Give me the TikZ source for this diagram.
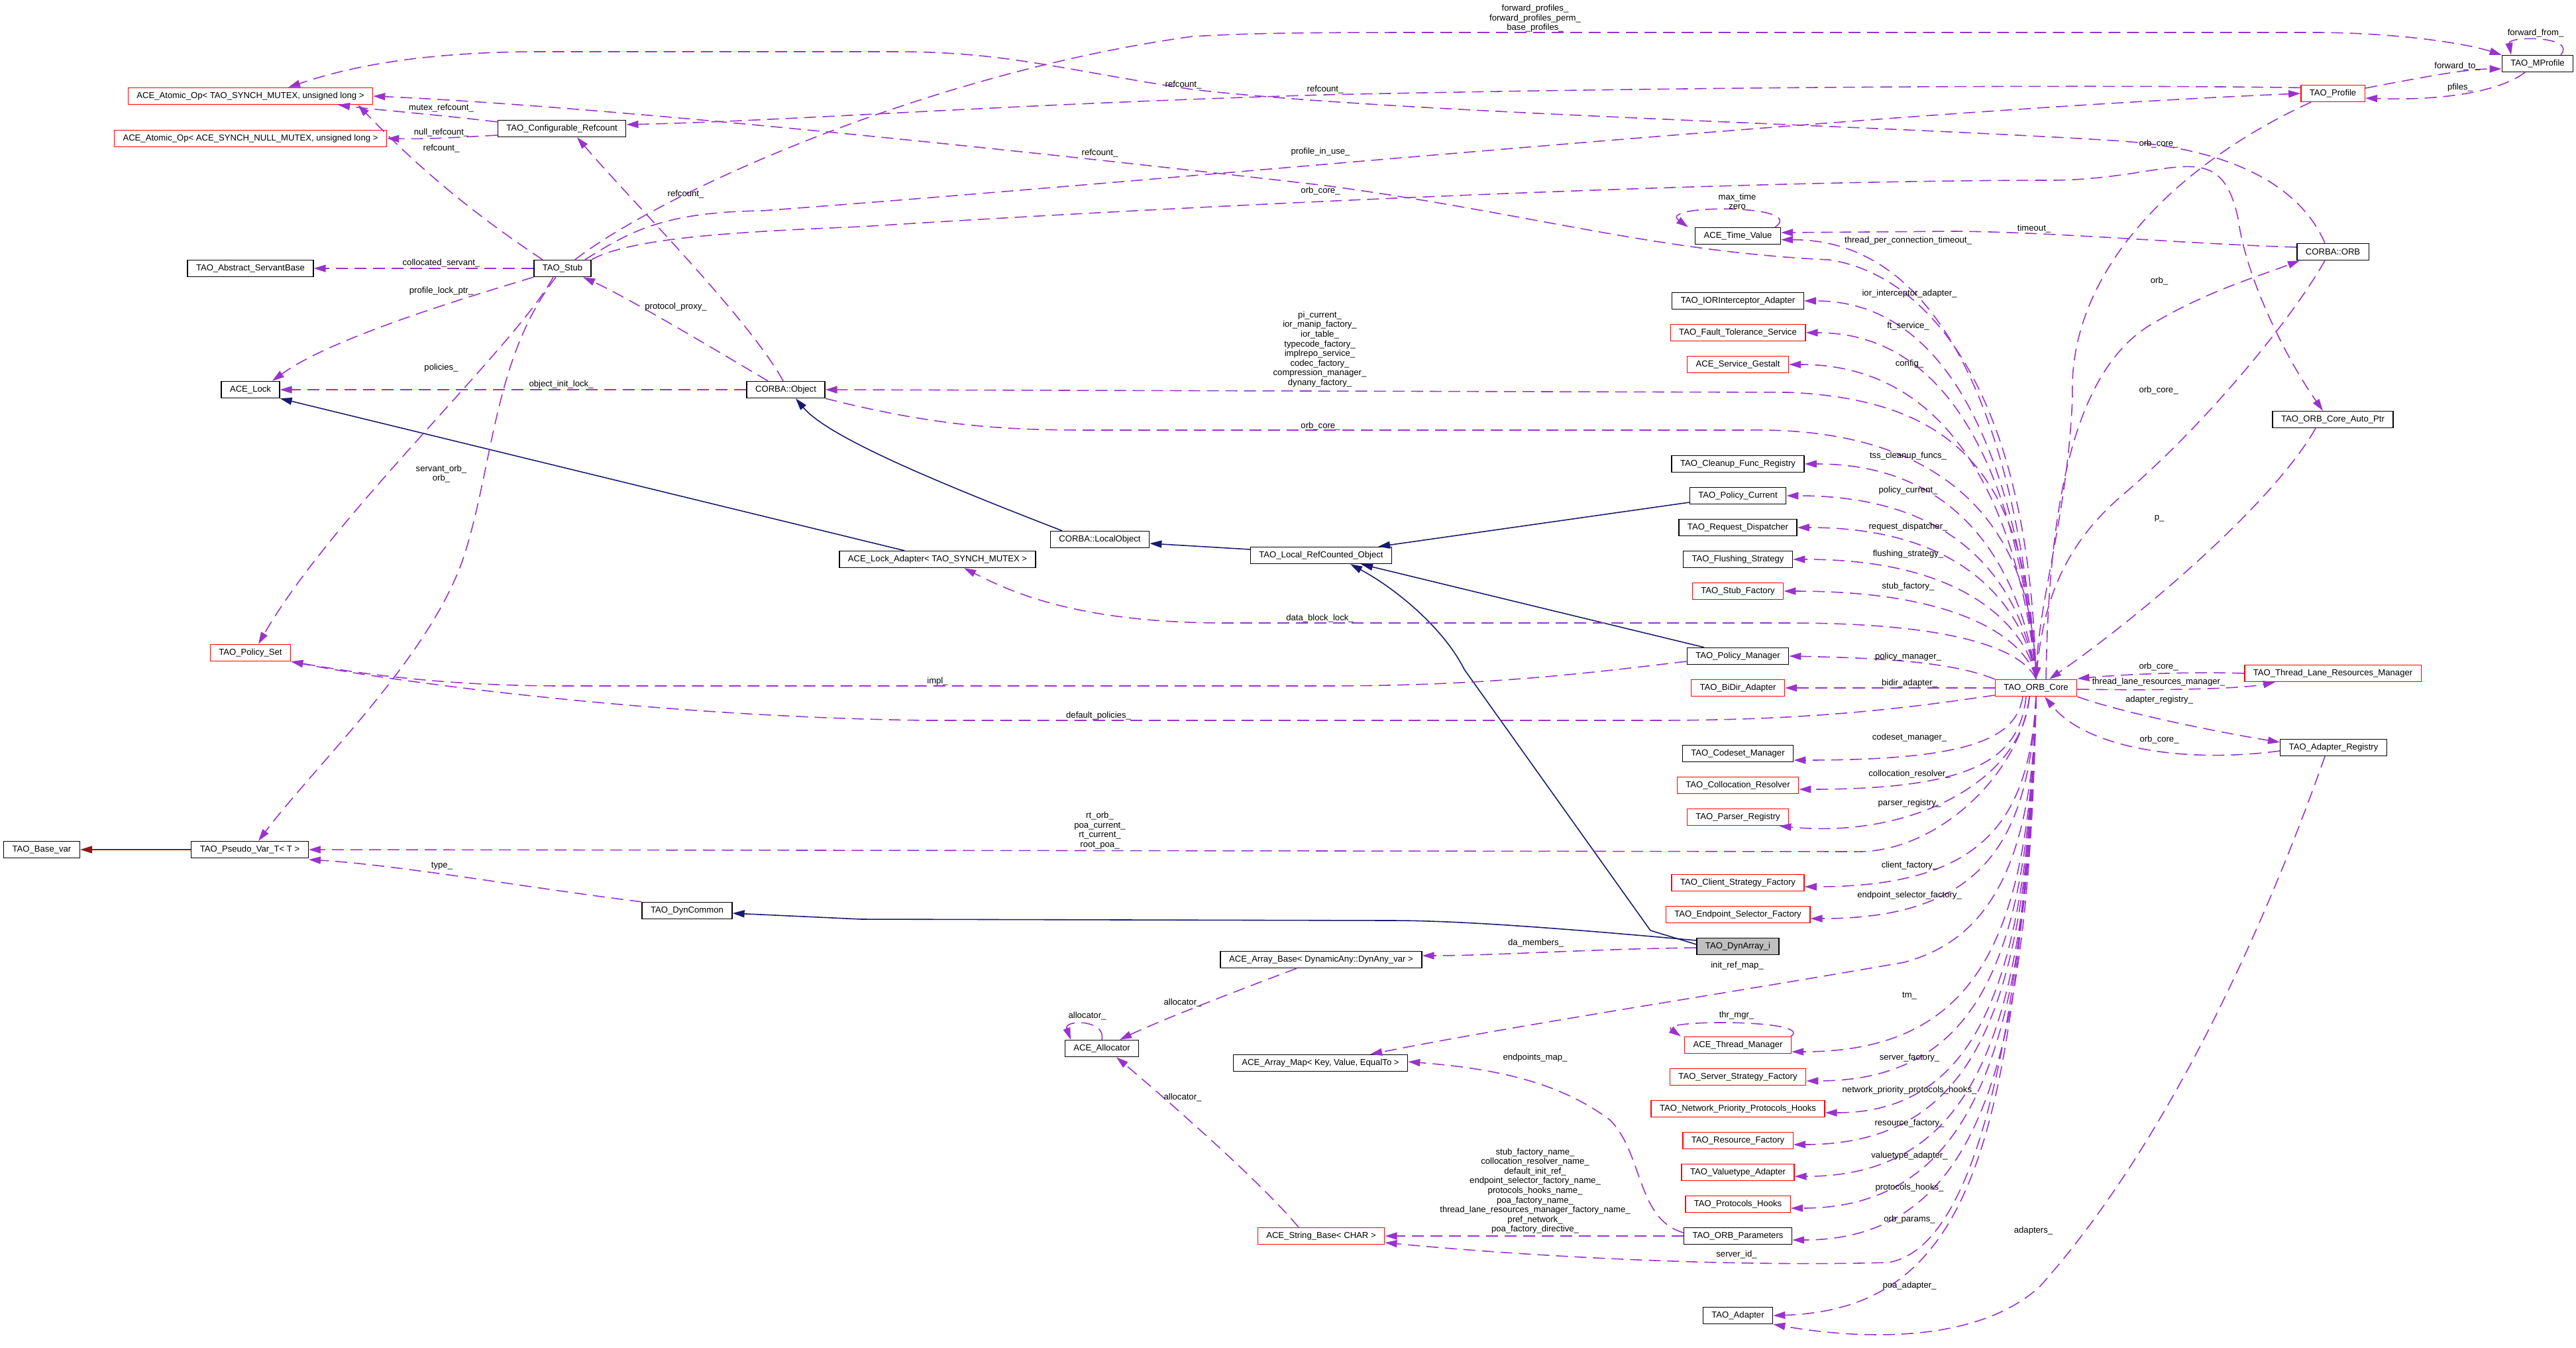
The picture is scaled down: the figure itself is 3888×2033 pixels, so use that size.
\documentclass[tikz,border=0pt]{standalone}
\usepackage{fontspec}
\setmainfont{Liberation Sans}
\usetikzlibrary{arrows.meta}
\definecolor{memcol}{RGB}{154,50,205}
\definecolor{pubcol}{RGB}{25,25,112}
\definecolor{privcol}{RGB}{139,26,26}
\definecolor{maincol}{RGB}{191,191,191}
\newcommand\dgfont{\fontsize{3.73pt}{4.15pt}\selectfont}
\tikzset{
  classbox/.style={draw=black, line width=0.4pt, fill=white, font=\dgfont,
    inner xsep=0.13cm, inner ysep=0pt, minimum height=0.25cm},
  redbox/.style={classbox, draw=red},
  edgelabel/.style={font=\dgfont, inner sep=0pt, align=center},
  memberedge/.style={draw=memcol, line width=0.45pt, dash pattern=on 0.18cm off 0.1cm,
    -{Triangle[length=0.18cm,width=0.11cm]}},
  pubedge/.style={draw=pubcol, line width=0.45pt, -{Triangle[length=0.18cm,width=0.11cm]}},
  privedge/.style={draw=privcol, line width=0.45pt, -{Triangle[length=0.18cm,width=0.11cm]}},
}
\begin{document}
\begin{tikzpicture}[x=0.01cm, y=-0.01cm]
  \useasboundingbox (0,0) rectangle (3888,2033);
  % classes
  \node[redbox] (atomA) at (378,145) {ACE\_Atomic\_Op< TAO\_SYNCH\_MUTEX, unsigned long >};
  \node[redbox] (atomN) at (378,209) {ACE\_Atomic\_Op< ACE\_SYNCH\_NULL\_MUTEX, unsigned long >};
  \node[classbox] (confref) at (848,194) {TAO\_Configurable\_Refcount};
  \node[classbox] (servant) at (378,405) {TAO\_Abstract\_ServantBase};
  \node[classbox] (stub) at (849,405) {TAO\_Stub};
  \node[classbox] (lock) at (378,588) {ACE\_Lock};
  \node[redbox] (polset) at (378,985) {TAO\_Policy\_Set};
  \node[classbox] (basevar) at (63,1282) {TAO\_Base\_var};
  \node[classbox] (pseudo) at (377,1282) {TAO\_Pseudo\_Var\_T< T >};
  \node[classbox] (dyncommon) at (1037,1374) {TAO\_DynCommon};
  \node[classbox] (object) at (1186,588) {CORBA::Object};
  \node[classbox] (localobj) at (1660,814) {CORBA::LocalObject};
  \node[classbox] (lockadapter) at (1415,844) {ACE\_Lock\_Adapter< TAO\_SYNCH\_MUTEX >};
  \node[classbox] (lro) at (1994,838) {TAO\_Local\_RefCounted\_Object};
  \node[classbox] (arraybase) at (1994,1448) {ACE\_Array\_Base< DynamicAny::DynAny\_var >};
  \node[classbox] (allocator) at (1663,1582) {ACE\_Allocator};
  \node[classbox] (arraymap) at (1993,1604) {ACE\_Array\_Map< Key, Value, EqualTo >};
  \node[redbox] (stringbase) at (1994,1865) {ACE\_String\_Base< CHAR >};
  \node[classbox] (timevalue) at (2623,356) {ACE\_Time\_Value};
  \node[classbox] (iorint) at (2623,454) {TAO\_IORInterceptor\_Adapter};
  \node[redbox] (ftserv) at (2623,502) {TAO\_Fault\_Tolerance\_Service};
  \node[redbox] (gestalt) at (2623,550) {ACE\_Service\_Gestalt};
  \node[classbox] (cleanup) at (2623,700) {TAO\_Cleanup\_Func\_Registry};
  \node[classbox] (polcur) at (2623,748) {TAO\_Policy\_Current};
  \node[classbox] (reqdisp) at (2623,796) {TAO\_Request\_Dispatcher};
  \node[classbox] (flush) at (2623,844) {TAO\_Flushing\_Strategy};
  \node[redbox] (stubfac) at (2623,892) {TAO\_Stub\_Factory};
  \node[classbox] (polman) at (2623,990) {TAO\_Policy\_Manager};
  \node[redbox] (bidir) at (2623,1038) {TAO\_BiDir\_Adapter};
  \node[classbox] (codeset) at (2623,1137) {TAO\_Codeset\_Manager};
  \node[redbox] (colres) at (2623,1185) {TAO\_Collocation\_Resolver};
  \node[redbox] (parser) at (2623,1233) {TAO\_Parser\_Registry};
  \node[redbox] (clientfac) at (2623,1332) {TAO\_Client\_Strategy\_Factory};
  \node[redbox] (endpfac) at (2623,1380) {TAO\_Endpoint\_Selector\_Factory};
  \node[classbox, fill=maincol] (dynarray) at (2623,1428) {TAO\_DynArray\_i};
  \node[redbox] (thrmgr) at (2623,1577) {ACE\_Thread\_Manager};
  \node[redbox] (serverfac) at (2623,1625) {TAO\_Server\_Strategy\_Factory};
  \node[redbox] (netprio) at (2623,1673) {TAO\_Network\_Priority\_Protocols\_Hooks};
  \node[redbox] (resfac) at (2623,1721) {TAO\_Resource\_Factory};
  \node[redbox] (valuetype) at (2623,1769) {TAO\_Valuetype\_Adapter};
  \node[redbox] (protohooks) at (2623,1817) {TAO\_Protocols\_Hooks};
  \node[classbox] (orbparams) at (2623,1865) {TAO\_ORB\_Parameters};
  \node[classbox] (adapter) at (2623,1985) {TAO\_Adapter};
  \node[redbox] (orbcore) at (3073,1038) {TAO\_ORB\_Core};
  \node[redbox] (profile) at (3521,141) {TAO\_Profile};
  \node[classbox] (mprofile) at (3830,96) {TAO\_MProfile};
  \node[classbox] (orb) at (3521,380) {CORBA::ORB};
  \node[classbox] (autoptr) at (3521,633) {TAO\_ORB\_Core\_Auto\_Ptr};
  \node[redbox] (tlrm) at (3521,1016) {TAO\_Thread\_Lane\_Resources\_Manager};
  \node[classbox] (adreg) at (3522,1128) {TAO\_Adapter\_Registry};

  % inheritance
  \draw[pubedge] ([xshift=-0.5cm]lockadapter.north) -- (lock.south east);
  \draw[pubedge] ([xshift=-0.57cm]localobj.north) .. controls (1420,730) and (1250,660) .. ([xshift=0.15cm]object.south);
  \draw[pubedge] ([yshift=0.09cm]lro.west) -- ([yshift=-0.06cm]localobj.east);
  \draw[pubedge] ([yshift=-0.1cm]polcur.west) -- ([xshift=0.86cm]lro.north);
  \draw[pubedge] ([xshift=-0.51cm]polman.north) -- ([xshift=0.6cm]lro.south);
  \draw[pubedge] ([yshift=0.03cm]dynarray.west) -- (2491,1404) -- (2210,1010) .. controls (2180,950) and (2110,890) .. ([xshift=0.44cm]lro.south);
  \draw[pubedge] ([yshift=0.09cm]dynarray.west) .. controls (2350,1400) and (2200,1389) .. (2100,1389) -- (1300,1387) -- ([yshift=-0.04cm]dyncommon.east);
  \draw[privedge] (pseudo.west) -- (basevar.east);

  % members, left part
  \begin{scope}[memberedge]
    \draw ([yshift=0.1cm]confref.west) .. controls (650,172) and (560,165) .. ([xshift=1.32cm]atomA.south);
    \draw ([yshift=-0.1cm]confref.west) .. controls (680,208) and (640,210) .. (atomN.east);
    \draw ([xshift=-0.3cm]stub.north) .. controls (680,300) and (600,220) .. ([xshift=1.62cm]atomA.south);
    \draw (stub.west) -- (servant.east);
    \draw (stub.south west) .. controls (700,450) and (500,510) .. ([xshift=0.33cm]lock.north);
    \draw ([xshift=-0.14cm]stub.south) .. controls (780,520) and (500,780) .. ([xshift=0.12cm]polset.north);
    \draw ([xshift=-0.1cm]stub.south) .. controls (745,540) and (745,700) .. (700,840) .. controls (650,990) and (480,1150) .. ([xshift=0.13cm]pseudo.north);
    \draw ([xshift=-0.04cm]object.north) .. controls (1130,480) and (950,300) .. ([xshift=0.23cm]confref.south);
    \draw ([xshift=-0.27cm]object.north) .. controls (1100,540) and (950,450) .. ([xshift=0.31cm]stub.south);
    \draw (object.west) -- (lock.east);
    \draw (object.south east) .. controls (1400,640) and (1500,649) .. (1640,649) -- (2640,649) .. controls (2900,645) and (3062,760) .. (orbcore.north);
    \draw ([xshift=-0.25cm]stub.north east) .. controls (1000,290) and (1400,110) .. (1800,55) .. controls (1900,49) and (2000,49) .. (2200,49) -- (3500,49) .. controls (3620,50) and (3720,65) .. (mprofile.north west);
    \draw ([xshift=-0.1cm]stub.north east) .. controls (950,350) and (1000,320) .. (1150,318) .. controls (1800,270) and (2800,170) .. (profile.west);
    \draw (stub.north east) .. controls (950,360) and (1100,350) .. (1300,342) .. controls (1800,310) and (2600,272) .. (3100,272) .. controls (3280,270) and (3350,200) .. (3378,330) .. controls (3390,420) and (3450,540) .. ([xshift=-0.15cm]autoptr.north);
    \draw ([xshift=-0.12cm]orb.north) .. controls (3480,300) and (3400,225) .. (3189,212) .. controls (2800,188) and (2100,170) .. (1800,135) .. controls (1600,105) and (1520,78) .. (1350,78) -- (800,78) .. controls (600,80) and (500,110) .. ([xshift=0.57cm]atomA.north);
    \draw (profile.170) .. controls (3200,128) and (2600,130) .. (2000,143) .. controls (1500,158) and (1200,182) .. ([yshift=0.06cm]confref.east);
    \draw ([xshift=-0.33cm]profile.south) .. controls (3300,240) and (3120,400) .. (3128,600) .. controls (3120,780) and (3078,900) .. (orbcore.north);
    \draw ([xshift=-0.12cm]orb.south) .. controls (3460,480) and (3330,640) .. (3200,750) .. controls (3120,820) and (3085,900) .. (orbcore.north);
    \draw ([xshift=-0.26cm]autoptr.south) .. controls (3430,760) and (3230,930) .. ([xshift=0.2cm]orbcore.north);
    \draw ([xshift=0.15cm]orbcore.north) .. controls (3092,760) and (3130,560) .. (3246,490) .. controls (3330,440) and (3400,420) .. ([xshift=-0.5cm]orb.south);
    \draw ([yshift=0.07cm]orb.west) .. controls (3300,368) and (3100,350) .. (2950,349) -- ([yshift=0.05cm]timevalue.east);
    \draw ([xshift=0.56cm]timevalue.north) .. controls (2730,308) and (2500,308) .. ([xshift=-0.75cm]timevalue.north);
  \end{scope}

  % members of TAO_ORB_Core
  \begin{scope}[memberedge]
    \draw (orbcore.north) .. controls +(-15,-232) and +(300,0) .. (timevalue.-5);
    \draw (orbcore.north) .. controls +(-15,-200) and +(270,0) .. (iorint.east);
    \draw (orbcore.north) .. controls +(-15,-183) and +(270,0) .. (ftserv.east);
    \draw (orbcore.north) .. controls +(-15,-166) and +(290,0) .. (gestalt.east);
    \draw (orbcore.north) .. controls +(-12,-300) and +(260,12) .. (2700,592) -- (object.east);
    \draw (orbcore.north) .. controls +(-15,-114) and +(270,0) .. (cleanup.east);
    \draw (orbcore.north) .. controls +(-15,-97) and +(300,0) .. (polcur.east);
    \draw (orbcore.north) .. controls +(-12,-80) and +(280,0) .. (reqdisp.east);
    \draw (orbcore.north) .. controls +(-10,-63) and +(280,0) .. (flush.east);
    \draw (orbcore.north) .. controls +(-10,-47) and +(290,0) .. (stubfac.east);
    \draw (orbcore.north) .. controls +(-20,-45) and +(250,0) .. (2700,940) -- (1850,940) .. controls (1620,940) and (1520,890) .. ([xshift=0.4cm]lockadapter.south);
    \draw (orbcore.north west) .. controls (2950,1000) and (2850,993) .. (polman.east);
    \draw (orbcore.north) .. controls +(-10,-450) and +(140,20) .. (2760,392) .. controls (2500,380) and (2300,320) .. (2000,280) .. controls (1500,222) and (900,160) .. (atomA.east);
    \draw (orbcore.west) -- (bidir.east);
    \draw (orbcore.-170) .. controls (2900,1065) and (2750,1087) .. (2500,1087) -- (1400,1087) .. controls (1000,1082) and (600,1030) .. (polset.south east);
    \draw ([xshift=-0.2cm]orbcore.south) .. controls +(-10,62) and +(270,0) .. ([yshift=-0.1cm]codeset.east);
    \draw ([xshift=-0.15cm]orbcore.south) .. controls +(-10,91) and +(270,0) .. ([yshift=-0.06cm]colres.east);
    \draw ([xshift=-0.1cm]orbcore.south) .. controls +(-10,126) and +(200,20) .. ([xshift=-0.15cm]parser.south east);
    \draw ([xshift=-0.1cm]orbcore.south) .. controls +(-15,120) and +(120,3) .. (2800,1285) -- (pseudo.east);
    \draw (orbcore.south) .. controls +(-10,187) and +(270,0) .. ([yshift=-0.06cm]clientfac.east);
    \draw (orbcore.south) .. controls +(-10,218) and +(260,0) .. ([yshift=-0.06cm]endpfac.east);
    \draw (orbcore.south) .. controls +(-5,280) and +(110,-30) .. (2874,1452) .. controls (2600,1500) and (2300,1545) .. ([xshift=0.75cm]arraymap.north);
    \draw (orbcore.south) .. controls +(-10,348) and +(290,0) .. ([yshift=-0.1cm]thrmgr.east);
    \draw (orbcore.south) .. controls +(-10,377) and +(270,0) .. ([yshift=-0.06cm]serverfac.east);
    \draw (orbcore.south) .. controls +(-10,408) and +(240,0) .. ([yshift=-0.06cm]netprio.east);
    \draw (orbcore.south) .. controls +(-10,440) and +(290,0) .. ([yshift=-0.06cm]resfac.east);
    \draw (orbcore.south) .. controls +(-10,470) and +(290,0) .. ([yshift=-0.06cm]valuetype.east);
    \draw (orbcore.south) .. controls +(-10,500) and +(290,0) .. ([yshift=-0.06cm]protohooks.east);
    \draw (orbcore.south) .. controls +(-10,533) and +(290,0) .. ([yshift=-0.06cm]orbparams.east);
    \draw (orbcore.south) .. controls +(-20,560) and +(120,-20) .. (2850,1905) .. controls (2600,1912) and (2300,1895) .. ([yshift=-0.1cm]stringbase.east);
    \draw (orbcore.south) .. controls +(-30,650) and +(310,-10) .. (adapter.east);
    \draw ([yshift=-0.02cm]orbcore.east) .. controls (3250,1042) and (3380,1040) .. ([xshift=-0.87cm]tlrm.south);
    \draw (orbcore.south east) .. controls (3200,1075) and (3350,1105) .. ([yshift=0.08cm]adreg.west);
  \end{scope}

  % members, right and lower part
  \begin{scope}[memberedge]
    \draw (tlrm.west) .. controls (3300,1013) and (3200,1018) .. ([yshift=0.14cm]orbcore.east);
    \draw ([yshift=-0.05cm]adreg.west) .. controls (3300,1152) and (3150,1130) .. ([xshift=0.13cm]orbcore.south);
    \draw ([xshift=-0.13cm]adreg.south) .. controls (3400,1450) and (3250,1750) .. (3078,1942) .. controls (2980,2030) and (2800,2020) .. (adapter.south east);
    \draw ([yshift=0.08cm]profile.east) .. controls (3650,118) and (3720,104) .. ([yshift=-0.08cm]mprofile.west);
    \draw ([xshift=-0.19cm]mprofile.south) .. controls (3770,140) and (3680,152) .. ([yshift=-0.07cm]profile.east);
    \draw ([xshift=0.35cm]mprofile.north) .. controls (3890,54) and (3785,54) .. ([xshift=-0.4cm]mprofile.north);
    \draw (dyncommon.north west) .. controls (800,1340) and (600,1305) .. ([yshift=-0.15cm]pseudo.east);
    \draw ([yshift=-0.08cm]polman.west) .. controls (2400,1015) and (2250,1035) .. (2000,1035) -- (850,1035) .. controls (650,1035) and (520,1012) .. (polset.south east);
    \draw ([yshift=-0.02cm]dynarray.west) .. controls (2400,1432) and (2250,1442) .. ([yshift=0.06cm]arraybase.east);
    \draw ([xshift=-0.37cm]arraybase.south) .. controls (1880,1490) and (1750,1540) .. ([xshift=0.27cm]allocator.north);
    \draw (allocator.north) .. controls (1670,1538) and (1605,1538) .. ([xshift=-0.47cm]allocator.north);
    \draw ([xshift=-0.34cm]stringbase.north) .. controls (1900,1780) and (1750,1650) .. ([xshift=0.22cm]allocator.south);
    \draw ([yshift=0.05cm]orbparams.west) .. controls (2470,1840) and (2480,1740) .. (2430,1690) .. controls (2350,1630) and (2250,1612) .. ([yshift=0.02cm]arraymap.east);
    \draw (orbparams.west) -- (stringbase.east);
    \draw ([xshift=0.8cm]thrmgr.north) .. controls (2740,1538) and (2500,1538) .. ([xshift=-0.86cm]thrmgr.north);
  \end{scope}

  % member names
  \node[edgelabel] (lmutexref) at (666,163) {mutex\_refcount\_};
  \node[edgelabel] (lnullref) at (666,200) {null\_refcount\_};
  \node[edgelabel] (lstubref) at (666,224) {refcount\_};
  \node[edgelabel] (lcolloc) at (666,397) {collocated\_servant\_};
  \node[edgelabel] (lproflock) at (666,439) {profile\_lock\_ptr\_};
  \node[edgelabel] (lpolicies) at (666,555) {policies\_};
  \node[edgelabel] (lobjlock) at (847,580) {object\_init\_lock\_};
  \node[edgelabel] (lservorb) at (666,715) {servant\_orb\_\\orb\_};
  \node[edgelabel] (lorbref) at (1786,128) {refcount\_};
  \node[edgelabel] (lprofref) at (2000,135) {refcount\_};
  \node[edgelabel] (lcoreref) at (1660,231) {refcount\_};
  \node[edgelabel] (lobjref) at (1035,293) {refcount\_};
  \node[edgelabel] (lproxy) at (1020,463) {protocol\_proxy\_};
  \node[edgelabel] (linuse) at (1993,229) {profile\_in\_use\_};
  \node[edgelabel] (lstubcore) at (1993,288) {orb\_core\_};
  \node[edgelabel] (lforward) at (2317,28) {forward\_profiles\_\\forward\_profiles\_perm\_\\base\_profiles\_};
  \node[edgelabel] (lmaxtime) at (2622,304) {max\_time\\zero};
  \node[edgelabel] (ltpct) at (2880,363) {thread\_per\_connection\_timeout\_};
  \node[edgelabel] (lior) at (2882,443) {ior\_interceptor\_adapter\_};
  \node[edgelabel] (lft) at (2880,492) {ft\_service\_};
  \node[edgelabel] (lconfig) at (2882,549) {config\_};
  \node[edgelabel] (lpicur) at (1992,527) {pi\_current\_\\ior\_manip\_factory\_\\ior\_table\_\\typecode\_factory\_\\implrepo\_service\_\\codec\_factory\_\\compression\_manager\_\\dynany\_factory\_};
  \node[edgelabel] (lobjcore) at (1993,643) {orb\_core\_};
  \node[edgelabel] (ltss) at (2880,688) {tss\_cleanup\_funcs\_};
  \node[edgelabel] (lpolcur) at (2880,740) {policy\_current\_};
  \node[edgelabel] (lreqdisp) at (2880,795) {request\_dispatcher\_};
  \node[edgelabel] (lflush) at (2880,836) {flushing\_strategy\_};
  \node[edgelabel] (lstubfac) at (2880,885) {stub\_factory\_};
  \node[edgelabel] (ldblock) at (1992,933) {data\_block\_lock\_};
  \node[edgelabel] (lpolman) at (2880,991) {policy\_manager\_};
  \node[edgelabel] (limpl) at (1415,1028) {impl\_};
  \node[edgelabel] (ldefpol) at (1658,1080) {default\_policies\_};
  \node[edgelabel] (lrtorb) at (1660,1253) {rt\_orb\_\\poa\_current\_\\rt\_current\_\\root\_poa\_};
  \node[edgelabel] (ltype) at (667,1307) {type\_};
  \node[edgelabel] (ldamem) at (2318,1423) {da\_members\_};
  \node[edgelabel] (lbidir) at (2882,1031) {bidir\_adapter\_};
  \node[edgelabel] (lcodeset) at (2882,1113) {codeset\_manager\_};
  \node[edgelabel] (lcolres) at (2882,1168) {collocation\_resolver\_};
  \node[edgelabel] (lparser) at (2882,1212) {parser\_registry\_};
  \node[edgelabel] (lclient) at (2882,1306) {client\_factory\_};
  \node[edgelabel] (lendp) at (2882,1351) {endpoint\_selector\_factory\_};
  \node[edgelabel] (linitref) at (2622,1457) {init\_ref\_map\_};
  \node[edgelabel] (ltm) at (2882,1503) {tm\_};
  \node[edgelabel] (lthrmgr) at (2621,1532) {thr\_mgr\_};
  \node[edgelabel] (lserver) at (2882,1596) {server\_factory\_};
  \node[edgelabel] (lnetprio) at (2882,1645) {network\_priority\_protocols\_hooks\_};
  \node[edgelabel] (lresfac) at (2882,1695) {resource\_factory\_};
  \node[edgelabel] (lvaluetype) at (2882,1744) {valuetype\_adapter\_};
  \node[edgelabel] (lprothooks) at (2882,1792) {protocols\_hooks\_};
  \node[edgelabel] (lorbparams) at (2882,1840) {orb\_params\_};
  \node[edgelabel] (lserverid) at (2621,1893) {server\_id\_};
  \node[edgelabel] (ladapters) at (3069,1857) {adapters\_};
  \node[edgelabel] (lpoaadapter) at (2882,1940) {poa\_adapter\_};
  \node[edgelabel] (lnames) at (2317,1797) {stub\_factory\_name\_\\collocation\_resolver\_name\_\\default\_init\_ref\_\\endpoint\_selector\_factory\_name\_\\protocols\_hooks\_name\_\\poa\_factory\_name\_\\thread\_lane\_resources\_manager\_factory\_name\_\\pref\_network\_\\poa\_factory\_directive\_};
  \node[edgelabel] (lalloc1) at (1785,1513) {allocator\_};
  \node[edgelabel] (lalloc2) at (1641,1533) {allocator\_};
  \node[edgelabel] (lalloc3) at (1785,1656) {allocator\_};
  \node[edgelabel] (lendpmap) at (2317,1596) {endpoints\_map\_};
  \node[edgelabel] (lfwdfrom) at (3827,50) {forward\_from\_};
  \node[edgelabel] (lfwdto) at (3709,100) {forward\_to\_};
  \node[edgelabel] (lpfiles) at (3713,132) {pfiles\_};
  \node[edgelabel] (lprofcore) at (3258,217) {orb\_core\_};
  \node[edgelabel] (ltimeout) at (3070,345) {timeout\_};
  \node[edgelabel] (lorb) at (3259,424) {orb\_};
  \node[edgelabel] (lorbcore) at (3258,589) {orb\_core\_};
  \node[edgelabel] (lp) at (3259,782) {p\_};
  \node[edgelabel] (ltlrmcore) at (3258,1006) {orb\_core\_};
  \node[edgelabel] (ltlrm) at (3258,1029) {thread\_lane\_resources\_manager\_};
  \node[edgelabel] (ladreg) at (3259,1056) {adapter\_registry\_};
  \node[edgelabel] (ladregcore) at (3259,1116) {orb\_core\_};
\end{tikzpicture}
\end{document}
